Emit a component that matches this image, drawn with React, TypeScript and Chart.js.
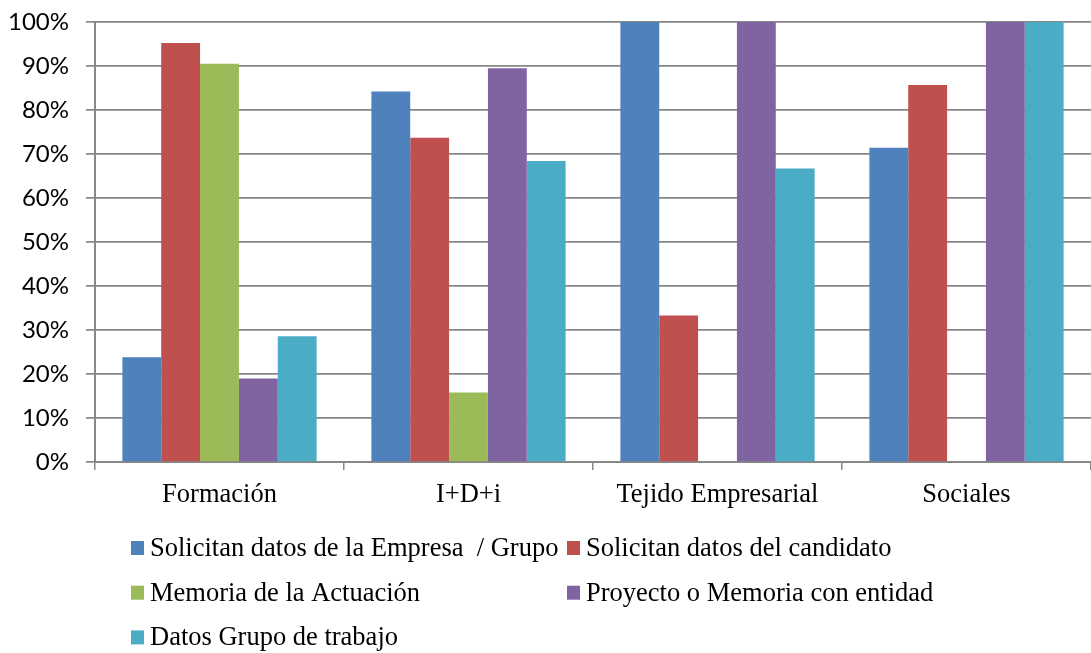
import React, { useEffect, useRef } from "react";
import { Chart, registerables } from "chart.js";

Chart.register(...registerables);

const categories = ["Formación", "I+D+i", "Tejido Empresarial", "Sociales"];
const seriesNames = [
  "Solicitan datos de la Empresa  / Grupo",
  "Solicitan datos del candidato",
  "Memoria de la Actuación",
  "Proyecto o Memoria con entidad",
  "Datos Grupo de trabajo",
];
const empresaGrupo = [23.8, 84.2, 100, 71.4];
const candidato = [95.2, 73.7, 33.3, 85.7];
const memoriaActuacion = [90.5, 15.8, 0, 0];
const proyectoEntidad = [19.0, 89.5, 100, 100];
const grupoTrabajo = [28.6, 68.4, 66.7, 100];
const colors = ["#4F81BD", "#C0504D", "#9BBB59", "#8064A2", "#4BACC6"];
const yTicks = [0, 10, 20, 30, 40, 50, 60, 70, 80, 90, 100];

const GRID = "#878787";

const gridLegend = {
  id: "gridLegend",
  afterDraw(chart: any) {
    const ctx = chart.ctx;
    const area = chart.chartArea;
    const col1 = area.left + 36;
    const col2 = col1 + 436;
    const row0 = area.bottom + 86;
    const step = 44.7;
    const positions = [
      [col1, row0],
      [col2, row0],
      [col1, row0 + step],
      [col2, row0 + step],
      [col1, row0 + 2 * step],
    ];
    ctx.save();
    ctx.font = "26.5px 'Liberation Serif', 'Times New Roman', serif";
    ctx.textBaseline = "middle";
    ctx.textAlign = "left";
    chart.data.datasets.forEach((ds: any, i: number) => {
      const [x, y] = positions[i];
      ctx.fillStyle = ds.backgroundColor;
      ctx.fillRect(x, y - 7, 13, 14);
      ctx.fillStyle = "#000";
      ctx.fillText(ds.label, x + 19, y + 1);
    });
    ctx.restore();
  },
};

export default function App() {
  const ref = useRef<HTMLCanvasElement>(null);
  useEffect(() => {
    document.body.style.margin = "0";
    const seriesData = [empresaGrupo, candidato, memoriaActuacion, proyectoEntidad, grupoTrabajo];
    const chart = new Chart(ref.current!, {
      type: "bar",
      data: {
        labels: categories,
        datasets: seriesData.map((d, i) => ({
          label: seriesNames[i],
          data: d,
          backgroundColor: colors[i],
          borderWidth: 0,
          categoryPercentage: 0.78,
          barPercentage: 1,
        })),
      },
      options: {
        animation: false,
        responsive: false,
        maintainAspectRatio: false,
        layout: { padding: { top: 22, right: 0, left: 0, bottom: 131 } },
        plugins: { legend: { display: false }, tooltip: { enabled: false } },
        scales: {
          x: {
            grid: {
              drawOnChartArea: false,
              drawTicks: true,
              tickLength: 8,
              color: GRID,
              lineWidth: 1.5,
            },
            border: { color: GRID, width: 2 },
            ticks: {
              color: "#000",
              font: { family: "'Liberation Serif', 'Times New Roman', serif", size: 26.5 },
              padding: 9,
            },
            afterFit(scale: any) {
              scale.height = 60;
              scale.paddingLeft = 0;
              scale.paddingRight = 0;
            },
          },
          y: {
            min: 0,
            max: 100,
            afterBuildTicks(scale: any) {
              scale.ticks = yTicks.map((v) => ({ value: v }));
            },
            grid: { color: GRID, lineWidth: 1.7, tickLength: 9 },
            border: { color: GRID, width: 2 },
            ticks: {
              color: "#000",
              font: { family: "Lato, 'Liberation Sans', sans-serif", size: 24 },
              padding: 17,
              callback: (v: any) => v + "%",
            },
            afterFit(scale: any) {
              scale.width = 95;
              scale.paddingTop = 0;
              scale.paddingBottom = 0;
            },
          },
        },
      },
      plugins: [gridLegend],
    });
    return () => chart.destroy();
  }, []);
  return <canvas ref={ref} width={1091} height={653} style={{ display: "block" }} />;
}
